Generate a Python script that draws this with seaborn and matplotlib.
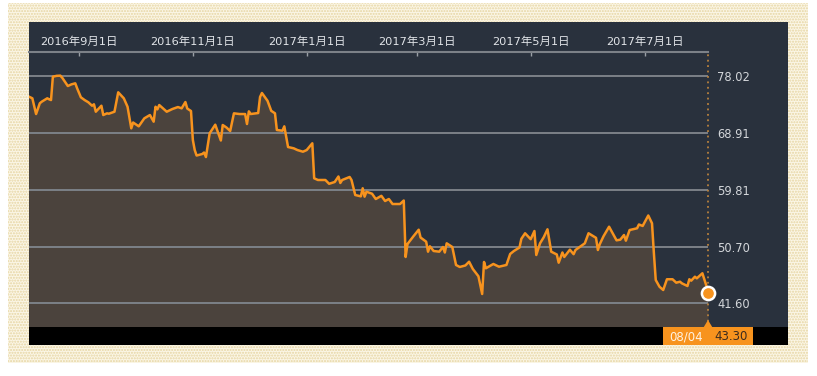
import pandas as pd
import seaborn as sns
import matplotlib.pyplot as plt
from matplotlib.patches import Rectangle, Polygon

# price series (Aug 2016 - Aug 2017)
dates = [
    '2016-08-05', '2016-08-07', '2016-08-09', '2016-08-11', '2016-08-12', '2016-08-15', '2016-08-16',
    '2016-08-17', '2016-08-18', '2016-08-20', '2016-08-22', '2016-08-23', '2016-08-26', '2016-08-28',
    '2016-08-30', '2016-08-31', '2016-09-02', '2016-09-04', '2016-09-06', '2016-09-08', '2016-09-09',
    '2016-09-10', '2016-09-13', '2016-09-14', '2016-09-16', '2016-09-17', '2016-09-20', '2016-09-22',
    '2016-09-25', '2016-09-27', '2016-09-29', '2016-09-30', '2016-10-03', '2016-10-06', '2016-10-09',
    '2016-10-11', '2016-10-12', '2016-10-13', '2016-10-14', '2016-10-18', '2016-10-21', '2016-10-24',
    '2016-10-26', '2016-10-28', '2016-10-29', '2016-10-31', '2016-11-01', '2016-11-02', '2016-11-03',
    '2016-11-06', '2016-11-07', '2016-11-08', '2016-11-10', '2016-11-13', '2016-11-16', '2016-11-17',
    '2016-11-19', '2016-11-21', '2016-11-23', '2016-11-26', '2016-11-29', '2016-11-30', '2016-12-01',
    '2016-12-02', '2016-12-06', '2016-12-07', '2016-12-08', '2016-12-11', '2016-12-13', '2016-12-15',
    '2016-12-16', '2016-12-19', '2016-12-20', '2016-12-22', '2016-12-25', '2016-12-27', '2016-12-30',
    '2017-01-01', '2017-01-04', '2017-01-05', '2017-01-07', '2017-01-11', '2017-01-13', '2017-01-16',
    '2017-01-18', '2017-01-19', '2017-01-20', '2017-01-24', '2017-01-25', '2017-01-27', '2017-01-30',
    '2017-01-31', '2017-02-01', '2017-02-02', '2017-02-05', '2017-02-07', '2017-02-10', '2017-02-12',
    '2017-02-14', '2017-02-16', '2017-02-20', '2017-02-22', '2017-02-23', '2017-02-24', '2017-02-27',
    '2017-03-02', '2017-03-03', '2017-03-06', '2017-03-07', '2017-03-08', '2017-03-10', '2017-03-13',
    '2017-03-15', '2017-03-16', '2017-03-17', '2017-03-20', '2017-03-22', '2017-03-24', '2017-03-27',
    '2017-03-29', '2017-03-31', '2017-04-03', '2017-04-05', '2017-04-06', '2017-04-07', '2017-04-11',
    '2017-04-14', '2017-04-18', '2017-04-20', '2017-04-22', '2017-04-25', '2017-04-26', '2017-04-28',
    '2017-05-01', '2017-05-03', '2017-05-04', '2017-05-06', '2017-05-08', '2017-05-10', '2017-05-12',
    '2017-05-15', '2017-05-16', '2017-05-18', '2017-05-19', '2017-05-22', '2017-05-24', '2017-05-25',
    '2017-05-30', '2017-06-01', '2017-06-05', '2017-06-06', '2017-06-07', '2017-06-09', '2017-06-12',
    '2017-06-16', '2017-06-18', '2017-06-20', '2017-06-21', '2017-06-23', '2017-06-27', '2017-06-28',
    '2017-06-30', '2017-07-03', '2017-07-05', '2017-07-06', '2017-07-07', '2017-07-09', '2017-07-11',
    '2017-07-13', '2017-07-16', '2017-07-18', '2017-07-20', '2017-07-21', '2017-07-24', '2017-07-25',
    '2017-07-26', '2017-07-28', '2017-07-29', '2017-08-01', '2017-08-03', '2017-08-04',
]
prices = [
    74.74, 74.45, 71.93, 73.65, 73.90, 74.45, 74.29,
    74.17, 77.91, 78.05, 78.08, 77.75, 76.42, 76.69,
    76.85, 76.05, 74.61, 74.17, 73.81, 73.26, 73.49,
    72.30, 73.26, 71.77, 72.04, 71.98, 72.30, 75.41,
    74.45, 73.10, 69.64, 70.57, 69.96, 71.24, 71.77,
    70.70, 73.10, 72.68, 73.37, 72.30, 72.73, 73.05,
    72.84, 73.85, 72.81, 72.41, 67.77, 66.16, 65.28,
    65.52, 65.76, 65.04, 68.84, 70.22, 67.69, 70.17,
    69.77, 69.21, 72.04, 71.93, 71.93, 70.33, 72.36,
    71.93, 72.09, 74.66, 75.30, 74.05, 72.44, 72.04,
    69.37, 69.26, 69.96, 66.64, 66.44, 66.16, 65.89,
    66.16, 67.24, 61.63, 61.36, 61.36, 60.75, 61.04,
    61.92, 60.88, 61.36, 61.84, 61.36, 58.95, 58.74,
    60.03, 58.68, 59.48, 59.16, 58.31, 58.82, 57.99,
    58.31, 57.51, 57.51, 58.07, 49.02, 51.10, 52.27,
    53.39, 52.14, 51.47, 49.87, 50.73, 49.98, 49.87,
    50.62, 49.74, 51.21, 50.62, 47.74, 47.42, 47.66,
    48.26, 47.10, 45.93, 43.09, 48.22, 47.21, 47.90,
    47.46, 47.74, 49.50, 49.98, 50.54, 51.93, 52.82,
    51.87, 53.18, 49.34, 51.21, 52.19, 53.46, 49.87,
    49.42, 48.10, 49.74, 49.02, 50.19, 49.47, 50.14,
    51.21, 52.82, 52.09, 50.14, 51.07, 52.33, 53.87,
    51.69, 51.79, 52.54, 51.63, 53.34, 53.62, 54.23,
    53.99, 55.67, 54.42, 49.66, 45.33, 44.26, 43.73,
    45.45, 45.45, 44.90, 45.06, 44.80, 44.37, 45.45,
    45.22, 45.86, 45.60, 46.41, 44.53, 43.30,
]

tick_dates = ['2016-09-01', '2016-11-01', '2017-01-01', '2017-03-01', '2017-05-01', '2017-07-01']
tick_labels = ['2016年9月1日', '2016年11月1日', '2017年1月1日', '2017年3月1日', '2017年5月1日', '2017年7月1日']
grid_values = [41.60, 50.70, 59.81, 68.91, 78.02]
last_date_label = '08/04'
last_price_label = '43.30'

df = pd.DataFrame({'date': pd.to_datetime(dates), 'price': prices})

NAVY = '#29313d'
ORANGE = '#f7931e'

sns.set_style('ticks', {'axes.facecolor': NAVY, 'figure.facecolor': 'white'})
plt.rcParams['font.family'] = ['DejaVu Sans', 'Noto Sans CJK JP']

W, H = 817, 376
fig = plt.figure(figsize=(W / 100, H / 100), dpi=100)


def fbox(x0, y0, x1, y1):
    # pixel box (top-left origin) -> figure fraction [l, b, w, h]
    return [x0 / W, 1 - y1 / H, (x1 - x0) / W, (y1 - y0) / H]


def fpt(x, y):
    return (x / W, 1 - y / H)


# dotted cream frame and dark panel behind the axes
l, b, w, h = fbox(8, 3, 808, 363)
fig.add_artist(Rectangle((l, b), w, h, transform=fig.transFigure, facecolor='#fbf6e6',
                         edgecolor='#e6d5a2', hatch='......', lw=0, zorder=-2))
l, b, w, h = fbox(29, 22, 788, 345)
fig.add_artist(Rectangle((l, b), w, h, transform=fig.transFigure, facecolor=NAVY, lw=0, zorder=-1))

ax = fig.add_axes(fbox(29, 52, 708, 327))
ax.set_zorder(1)
ax.set_facecolor(NAVY)

ymin, ymax = 37.80, 81.87
ax.fill_between(df['date'], df['price'], ymin, color='#4b433d', lw=0, zorder=1)
for v in grid_values:
    ax.axhline(v, color='#7c8188', lw=1.4, zorder=2)
sns.lineplot(data=df, x='date', y='price', ax=ax, color=ORANGE, lw=1.8, zorder=3)

last_date = df['date'].iloc[-1]
ax.axvline(last_date, color='#b8813d', ls=(0, (1, 2)), lw=1.3, zorder=4, clip_on=False)
ax.plot([last_date], [df['price'].iloc[-1]], 'o', ms=9.5, mfc=ORANGE, mec='white', mew=1.8,
        clip_on=False, zorder=6)

ax.set_xlim(pd.Timestamp('2016-08-05 05:00'), last_date)
ax.set_ylim(ymin, ymax)

# top date axis
ax.xaxis.tick_top()
ax.set_xticks(pd.to_datetime(tick_dates))
ax.set_xticklabels(tick_labels)
ax.tick_params(axis='x', direction='in', length=3, width=1, color='#9aa0a6', pad=4,
               labelsize=8.2, labelcolor='#e1e4e8')

# right value labels
ax.yaxis.tick_right()
ax.set_yticks(grid_values)
ax.set_yticklabels([f'{v:.2f}' for v in grid_values])
ax.tick_params(axis='y', length=0, pad=6.5, labelsize=8.3, labelcolor='#d3d6da')
ax.set_xlabel('')
ax.set_ylabel('')

for side in ['left', 'right', 'bottom']:
    ax.spines[side].set_visible(False)
ax.spines['top'].set_color('#7c8188')
ax.spines['top'].set_linewidth(1.5)

# black bottom bar and last value tag
l, b, w, h = fbox(29, 327, 788, 345)
fig.add_artist(Rectangle((l, b), w, h, transform=fig.transFigure, facecolor='black', lw=0, zorder=5))
l, b, w, h = fbox(663, 327, 753, 345)
fig.add_artist(Rectangle((l, b), w, h, transform=fig.transFigure, facecolor=ORANGE, lw=0, zorder=6))
fig.add_artist(Polygon([fpt(703.5, 327.5), fpt(712.5, 327.5), fpt(708, 320)], closed=True,
                       transform=fig.transFigure, facecolor=ORANGE, lw=0, zorder=6))
fig.text(686 / W, 1 - 336.5 / H, last_date_label, color='#fff3e3', fontsize=8.5,
         ha='center', va='center', zorder=7)
fig.text(731 / W, 1 - 336.5 / H, last_price_label, color='#3b2b1e', fontsize=8.5,
         ha='center', va='center', zorder=7)

fig.savefig('out.png', dpi=100)
